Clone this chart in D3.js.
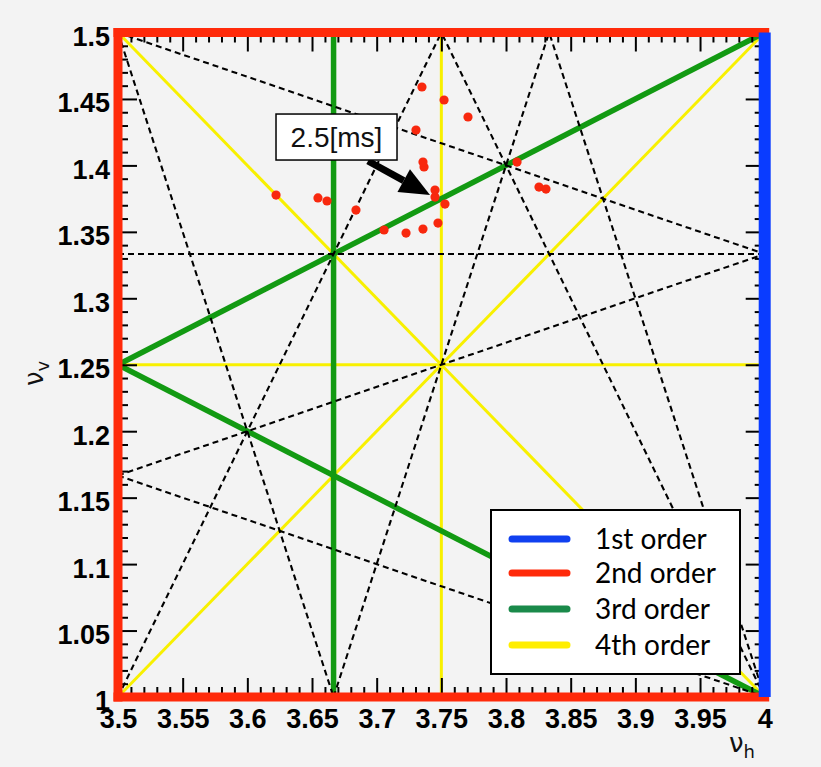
<!DOCTYPE html>
<html>
<head>
<meta charset="utf-8">
<script src="https://cdn.jsdelivr.net/npm/d3@7"></script>
<style>
  html, body { margin: 0; padding: 0; background: #f3f3f3; }
  svg { display: block; }
</style>
</head>
<body>
<svg id="chart" width="821" height="767"></svg>
<script>
// Tune-space window
const nuHDomain = [3.5, 4.0];
const nuVDomain = [1.0, 1.5];

// Resonance lines m*nuH + n*nuV = p, stored as [m, n, p]
const firstOrder  = [[1, 0, 4]];
const secondOrder = [[2, 0, 7], [0, 2, 3], [0, 2, 2]];
const thirdOrder  = [[3, 0, 11], [1, -2, 1], [1, 2, 6]];
const fourthOrder = [[4, 0, 15], [0, 4, 5], [2, 2, 10], [2, -2, 5]];
const skewLines   = [[0, 3, 4], [1, 3, 8], [1, 3, 7], [1, -3, 0],
                     [3, 1, 12], [3, 1, 13], [3, -1, 10], [2, -1, 6], [2, 1, 9]];

// Measured tune points
const nuH = [3.6222, 3.6546, 3.6616, 3.6840, 3.7057, 3.7227, 3.7358, 3.7474, 3.7451, 3.7451,
             3.7528, 3.7366, 3.7358, 3.7304, 3.7350, 3.7521, 3.7706, 3.8085, 3.8255, 3.8309];
const nuV = [1.3777, 1.3755, 1.3732, 1.3664, 1.3514, 1.3491, 1.3521, 1.3566, 1.3762, 1.3815,
             1.3709, 1.3988, 1.4025, 1.4266, 1.4590, 1.4492, 1.4364, 1.4025, 1.3837, 1.3822];

// Annotated point (index into the tune arrays) and its label
const noteIndex = 8;
const noteText = "2.5[ms]";

// Axis ticks
const xTicks = [3.5, 3.55, 3.6, 3.65, 3.7, 3.75, 3.8, 3.85, 3.9, 3.95, 4.0];
const xTickLabels = ["3.5", "3.55", "3.6", "3.65", "3.7", "3.75", "3.8", "3.85", "3.9", "3.95", "4"];
const yTicks = [1.0, 1.05, 1.1, 1.15, 1.2, 1.25, 1.3, 1.35, 1.4, 1.45, 1.5];
const yTickLabels = ["1", "1.05", "1.1", "1.15", "1.2", "1.25", "1.3", "1.35", "1.4", "1.45", "1.5"];

// Legend
const legendLabels = ["1st order", "2nd order", "3rd order", "4th order"];
const legendColors = ["#1040f0", "#ff2a0a", "#1a8a4a", "#ffee00"];

const COL = { blue: "#0a3cff", red: "#ff2a0a", green: "#129a12", yellow: "#f8f000", dot: "#f8280e" };

const svg = d3.select("#chart");
const x = d3.scaleLinear().domain(nuHDomain).range([118, 764.7]);
const y = d3.scaleLinear().domain(nuVDomain).range([697, 32.5]);

// Segment of a resonance line inside the tune window
function segment([m, n, p]) {
  const [h0, h1] = nuHDomain, [v0, v1] = nuVDomain;
  if (n === 0) return [[p / m, v0], [p / m, v1]];
  if (m === 0) return [[h0, p / n], [h1, p / n]];
  const pts = [];
  const eps = 1e-9;
  [h0, h1].forEach(h => { const v = (p - m * h) / n; if (v >= v0 - eps && v <= v1 + eps) pts.push([h, v]); });
  [v0, v1].forEach(v => { const h = (p - n * v) / m; if (h >= h0 - eps && h <= h1 + eps) pts.push([h, v]); });
  const uniq = [];
  pts.forEach(a => { if (!uniq.some(b => Math.abs(a[0] - b[0]) < 1e-6 && Math.abs(a[1] - b[1]) < 1e-6)) uniq.push(a); });
  return uniq.length >= 2 ? uniq.slice(0, 2) : null;
}

function drawLines(list, cls, style) {
  svg.append("g").attr("class", cls)
    .selectAll("line")
    .data(list.map(segment).filter(s => s))
    .join("line")
    .attr("x1", d => x(d[0][0])).attr("y1", d => y(d[0][1]))
    .attr("x2", d => x(d[1][0])).attr("y2", d => y(d[1][1]))
    .attr("stroke", style.color)
    .attr("stroke-width", style.width)
    .attr("stroke-linecap", style.cap || "butt")
    .attr("stroke-dasharray", style.dash || null);
}

drawLines(fourthOrder, "order4", { color: COL.yellow, width: 3 });
drawLines(thirdOrder, "order3", { color: COL.green, width: 5.5 });
drawLines(skewLines, "skew", { color: "#000", width: 2.1, dash: "6,4" });

// Axes: inward ticks on all four sides
const minorVals = d3.range(351, 400).map(v => v / 100).filter(v => Math.round(v * 100) % 5 !== 0);
const minorValsY = d3.range(101, 150).map(v => v / 100).filter(v => Math.round(v * 100) % 5 !== 0);

function styleAxis(g) {
  g.select(".domain").remove();
  g.selectAll(".tick line").attr("stroke", "#000").attr("stroke-width", 2);
}

const labelFont = g => g.attr("font-family", "Liberation Sans, Arial, sans-serif")
  .attr("font-weight", "bold").attr("font-size", 27).attr("fill", "#000");

const axes = svg.append("g").attr("class", "axes");
axes.append("g").attr("transform", `translate(0,${y(1.0)})`)
  .call(d3.axisBottom(x).tickValues(xTicks).tickSize(-19).tickFormat((d, i) => xTickLabels[i]))
  .call(styleAxis)
  .call(g => g.selectAll("text").attr("y", 31).attr("dy", null).call(labelFont));
axes.append("g").attr("transform", `translate(0,${y(1.0)})`)
  .call(d3.axisBottom(x).tickValues(minorVals).tickSize(-10).tickFormat(""))
  .call(styleAxis);
axes.append("g").attr("transform", `translate(0,${y(1.5)})`)
  .call(d3.axisTop(x).tickValues(xTicks).tickSize(-19).tickFormat(""))
  .call(styleAxis);
axes.append("g").attr("transform", `translate(0,${y(1.5)})`)
  .call(d3.axisTop(x).tickValues(minorVals).tickSize(-10).tickFormat(""))
  .call(styleAxis);
axes.append("g").attr("transform", `translate(${x(3.5)},0)`)
  .call(d3.axisLeft(y).tickValues(yTicks).tickSize(-19).tickFormat((d, i) => yTickLabels[i]))
  .call(styleAxis)
  .call(g => g.selectAll("text").attr("x", -8).attr("dy", "0.48em").call(labelFont));
axes.append("g").attr("transform", `translate(${x(3.5)},0)`)
  .call(d3.axisLeft(y).tickValues(minorValsY).tickSize(-10).tickFormat(""))
  .call(styleAxis);
axes.append("g").attr("transform", `translate(${x(4.0)},0)`)
  .call(d3.axisRight(y).tickValues(yTicks).tickSize(-19).tickFormat(""))
  .call(styleAxis);
axes.append("g").attr("transform", `translate(${x(4.0)},0)`)
  .call(d3.axisRight(y).tickValues(minorValsY).tickSize(-10).tickFormat(""))
  .call(styleAxis);

// Integer and half-integer lines framing the window
drawLines(secondOrder, "order2", { color: COL.red, width: 9, cap: "square" });
drawLines(firstOrder, "order1", { color: COL.blue, width: 12 });

// Axis titles
const xt = svg.append("text").attr("x", 729).attr("y", 752)
  .attr("font-family", "DejaVu Sans, sans-serif").attr("font-size", 26).attr("fill", "#111");
xt.append("tspan").text("ν");
xt.append("tspan").attr("dy", 6).attr("font-size", 18).text("h");

const yt = svg.append("text").attr("transform", "translate(43,386) rotate(-90)")
  .attr("font-family", "DejaVu Sans, sans-serif").attr("font-size", 26).attr("fill", "#111");
yt.append("tspan").text("ν");
yt.append("tspan").attr("dy", 6).attr("font-size", 18).text("v");

// Tune points
svg.append("g").attr("class", "tunes")
  .selectAll("circle")
  .data(nuH.map((h, i) => [h, nuV[i]]))
  .join("circle")
  .attr("cx", d => x(d[0])).attr("cy", d => y(d[1]))
  .attr("r", 4.6).attr("fill", COL.dot);

// Annotation with arrow
const tx = x(nuH[noteIndex]), ty = y(nuV[noteIndex]);
const tip = [tx - 5, ty - 2];
const tail = [tx - 67, ty - 36];
const ang = Math.atan2(tip[1] - tail[1], tip[0] - tail[0]);
const headLen = 30, headHalf = 13;
const base = [tip[0] - headLen * Math.cos(ang), tip[1] - headLen * Math.sin(ang)];
const note = svg.append("g").attr("class", "note");
note.append("line")
  .attr("x1", tail[0]).attr("y1", tail[1]).attr("x2", base[0]).attr("y2", base[1])
  .attr("stroke", "#000").attr("stroke-width", 7);
note.append("path")
  .attr("d", `M${tip[0]},${tip[1]}` +
    `L${base[0] - headHalf * Math.sin(ang)},${base[1] + headHalf * Math.cos(ang)}` +
    `L${base[0] + headHalf * Math.sin(ang)},${base[1] - headHalf * Math.cos(ang)}Z`)
  .attr("fill", "#000");
note.append("rect")
  .attr("x", tx - 159).attr("y", ty - 83).attr("width", 121).attr("height", 46)
  .attr("fill", "#fff").attr("stroke", "#000").attr("stroke-width", 1.5);
note.append("text")
  .attr("x", tx - 98.5).attr("y", ty - 50)
  .attr("text-anchor", "middle")
  .attr("font-family", "Liberation Sans, Arial, sans-serif").attr("font-size", 28)
  .attr("fill", "#111").text(noteText);

// Legend
const lg = svg.append("g").attr("class", "legend").attr("transform", "translate(491,510)");
lg.append("rect").attr("width", 249).attr("height", 164)
  .attr("fill", "#fff").attr("stroke", "#000").attr("stroke-width", 2);
const rows = lg.selectAll("g.row").data(legendLabels).join("g")
  .attr("class", "row")
  .attr("transform", (d, i) => `translate(0,${[29, 63, 99, 135][i]})`);
rows.append("line").attr("x1", 21).attr("x2", 76)
  .attr("stroke", (d, i) => legendColors[i]).attr("stroke-width", 7).attr("stroke-linecap", "round");
rows.append("text").attr("x", 104).attr("y", 10)
  .attr("font-family", "Lato, 'Open Sans', sans-serif").attr("font-size", 28)
  .attr("fill", "#000").text(d => d);
</script>
</body>
</html>
